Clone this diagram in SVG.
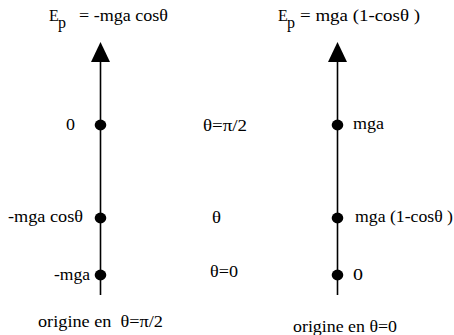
<svg xmlns="http://www.w3.org/2000/svg" width="454" height="335" viewBox="0 0 454 335">
<style>
text{font-family:"Liberation Serif","Times New Roman",serif;font-size:16px;fill:#000;white-space:pre}
.ax{stroke:#000;stroke-width:1.6;fill:none}
.dot{fill:#000}
</style>
<rect width="454" height="335" fill="#fff"/>
<g id="connectors">
<path class="ax" d="M100.5,295 V62"/>
<path d="M91,62 L100.5,42 L110,62 Z" fill="#000"/>
<path class="ax" d="M337.5,295 V62"/>
<path d="M328,62 L337.5,42 L347,62 Z" fill="#000"/>
</g>
<g id="title-left">
<text x="49" y="21">E</text>
<text x="58" y="28">p</text>
<text x="79" y="21" textLength="89" lengthAdjust="spacingAndGlyphs">= -mga cosθ</text>
</g>
<g id="title-right">
<text x="278" y="21">E</text>
<text x="287" y="28">p</text>
<text x="300" y="21" textLength="120" lengthAdjust="spacingAndGlyphs">= mga (1-cosθ )</text>
</g>
<g id="left-top">
<ellipse class="dot" cx="100.5" cy="125" rx="5.8" ry="5.4"/>
<text x="66" y="130" textLength="9" lengthAdjust="spacingAndGlyphs">0</text>
</g>
<g id="left-mid">
<ellipse class="dot" cx="100.5" cy="218" rx="5.8" ry="5.4"/>
<text x="8" y="222" textLength="75" lengthAdjust="spacingAndGlyphs">-mga cosθ</text>
</g>
<g id="left-bot">
<ellipse class="dot" cx="100.5" cy="275" rx="5.8" ry="5.4"/>
<text x="54" y="280" textLength="36" lengthAdjust="spacingAndGlyphs">-mga</text>
</g>
<g id="mid-top">
<text x="203" y="131" textLength="44" lengthAdjust="spacingAndGlyphs">θ=π/2</text>
</g>
<g id="mid-mid">
<text x="212" y="223" textLength="9" lengthAdjust="spacingAndGlyphs">θ</text>
</g>
<g id="mid-bot">
<text x="210" y="277" textLength="28" lengthAdjust="spacingAndGlyphs">θ=0</text>
</g>
<g id="right-top">
<ellipse class="dot" cx="337.5" cy="125" rx="5.8" ry="5.4"/>
<text x="353" y="129" textLength="31" lengthAdjust="spacingAndGlyphs">mga</text>
</g>
<g id="right-mid">
<ellipse class="dot" cx="337.5" cy="218" rx="5.8" ry="5.4"/>
<text x="355" y="222" textLength="98" lengthAdjust="spacingAndGlyphs">mga (1-cosθ )</text>
</g>
<g id="right-bot">
<ellipse class="dot" cx="337.5" cy="275" rx="5.8" ry="5.4"/>
<text x="353" y="280" textLength="10" lengthAdjust="spacingAndGlyphs">0</text>
</g>
<g id="caption-left">
<text x="38" y="327" textLength="125" lengthAdjust="spacingAndGlyphs">origine en  θ=π/2</text>
</g>
<g id="caption-right">
<text x="293" y="332" textLength="104" lengthAdjust="spacingAndGlyphs">origine en θ=0</text>
</g>
</svg>
